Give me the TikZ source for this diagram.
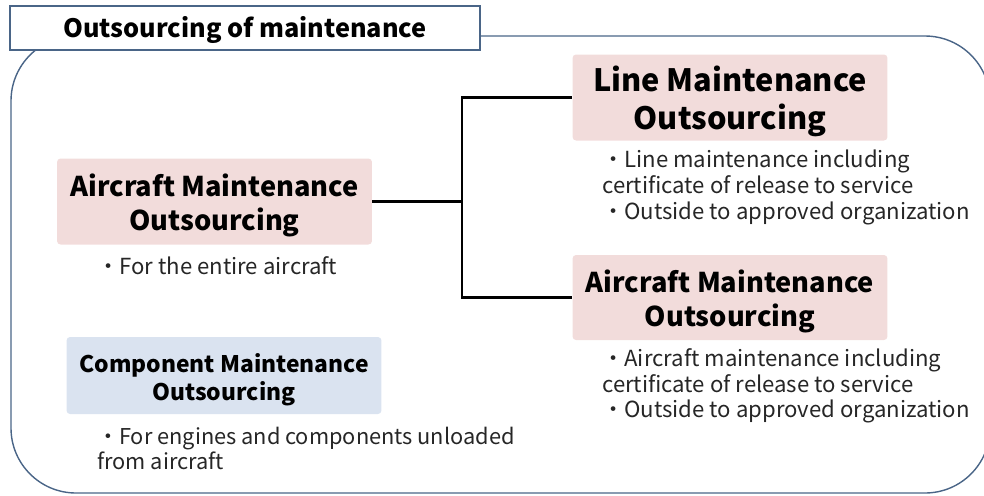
\documentclass[tikz,border=0pt]{standalone}
\usepackage{fontspec}
\setmainfont{Noto Sans CJK JP}
\definecolor{framecol}{HTML}{4A6587}
\definecolor{boxpink}{HTML}{F2DCDB}
\definecolor{boxblue}{HTML}{DAE3F0}
\definecolor{desccol}{HTML}{262626}
\tikzset{
  headbox/.style={draw=framecol, line width=0.8pt, fill=white, inner sep=0pt,
    text height=0.5cm, text depth=0.13cm,
    minimum width=9.4cm, minimum height=0.88cm, font=\bfseries\fontsize{14.4}{18}\selectfont},
  pinkbox/.style={fill=boxpink, rounded corners=2pt, inner sep=0pt, align=center,
    text height=1.25cm, text depth=0.11cm,
    minimum width=6.3cm, minimum height=1.72cm, font=\bfseries\fontsize{15.5}{19.3}\selectfont},
  bluebox/.style={fill=boxblue, rounded corners=2pt, inner sep=0pt, align=center,
    text height=1.05cm, text depth=0.07cm,
    minimum width=6.3cm, minimum height=1.54cm, font=\bfseries\fontsize{13}{15.9}\selectfont},
  desc/.style={text=desccol, inner sep=0pt, align=left, anchor=north west,
    font=\fontsize{12.6}{14.7}\selectfont},
  link/.style={line width=1.4pt, black},
}
\begin{document}
\begin{tikzpicture}[x=0.02cm, y=-0.02cm]
	\useasboundingbox (0,0) rectangle (984,495);
	\begin{scope}
		\clip (0,0) rectangle (984,495);
		\draw[framecol, line width=0.8pt, rounded corners=1.3cm] (11,36) rectangle (990,493);
	\end{scope}

	\node[headbox] (title) at (245,28) {Outsourcing of maintenance};

	\node[pinkbox] (air) at (214.5,201.5) {Aircraft Maintenance\\Outsourcing};
	\node[pinkbox, text height=1.38cm, text depth=0.12cm, font=\bfseries\fontsize{17.5}{21.5}\selectfont] (line) at (730,97.5) {Line Maintenance\\Outsourcing};
	\node[pinkbox, minimum height=1.70cm] (air2) at (730,297.5) {Aircraft Maintenance\\Outsourcing};
	\node[bluebox] (comp) at (224,375.5) {Component Maintenance\\Outsourcing};

	\node[desc] (airtext) at (97,256) {・For the entire aircraft};
	\node[desc] (linetext) at (602,150) {・Line maintenance including\\certificate of release to service\\・Outside to approved organization};
	\node[desc] (air2text) at (602,348) {・Aircraft maintenance including\\certificate of release to service\\・Outside to approved organization};
	\node[desc, font=\fontsize{12.4}{14.2}\selectfont] (comptext) at (97,427) {・For engines and components unloaded\\from aircraft};

	\coordinate (split) at (462,201.5);
	\draw[link] (air.east) -- (split);
	\draw[link] (split) |- (line.west);
	\draw[link] (split) |- (air2.west);
\end{tikzpicture}
\end{document}
